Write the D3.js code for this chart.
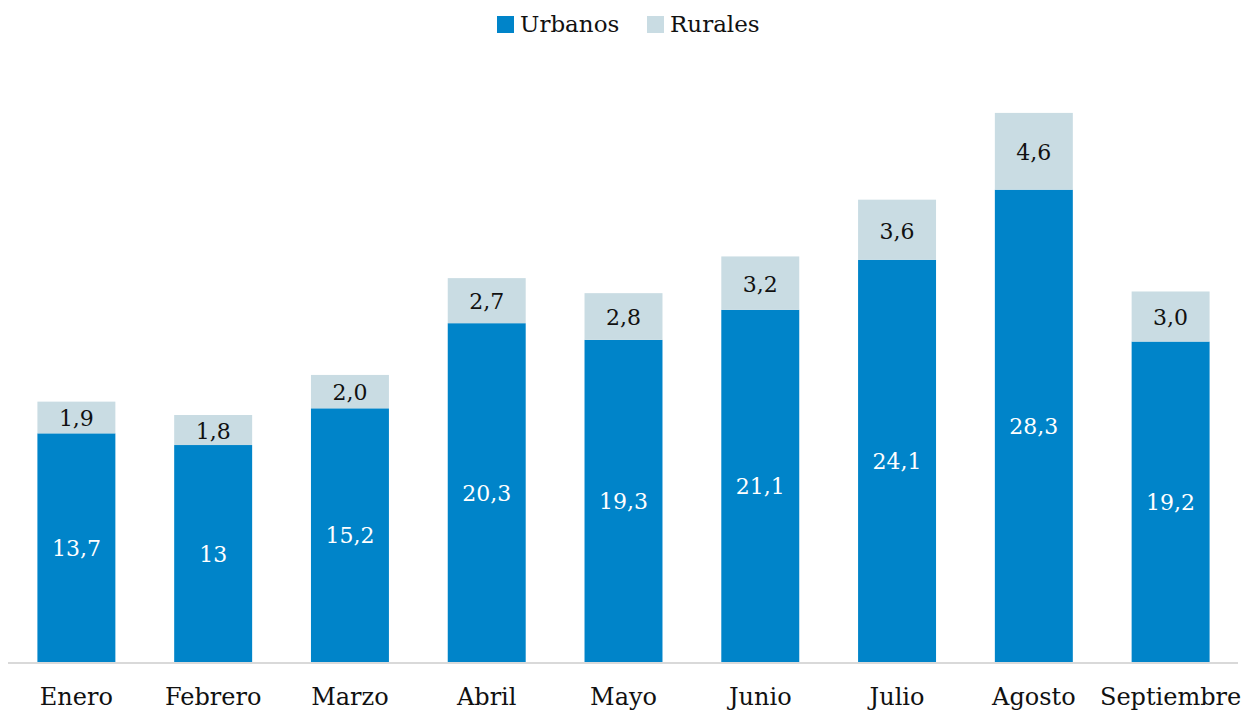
<!DOCTYPE html>
<html>
<head>
<meta charset="utf-8">
<script src="https://cdn.jsdelivr.net/npm/d3@7"></script>
<style>
  body { margin: 0; background: #fff; }
  text { font-family: "DejaVu Serif", serif; }
</style>
</head>
<body>
<div id="chart"></div>
<script>
var months = ["Enero", "Febrero", "Marzo", "Abril", "Mayo", "Junio", "Julio", "Agosto", "Septiembre"];
var urbanos = [13.7, 13, 15.2, 20.3, 19.3, 21.1, 24.1, 28.3, 19.2];
var rurales = [1.9, 1.8, 2.0, 2.7, 2.8, 3.2, 3.6, 4.6, 3.0];
var urbanLabels = ["13,7", "13", "15,2", "20,3", "19,3", "21,1", "24,1", "28,3", "19,2"];
var ruralLabels = ["1,9", "1,8", "2,0", "2,7", "2,8", "3,2", "3,6", "4,6", "3,0"];

var width = 1245, height = 713;

var svg = d3.select("#chart")
    .append("svg")
    .attr("width", width)
    .attr("height", height);

// scales
var x = d3.scaleBand()
    .domain(months)
    .range([8, 1239])
    .paddingInner(0.43)
    .paddingOuter(0.215);

var y = d3.scaleLinear()
    .domain([0, 35])
    .range([662, 662 - 35 * 16.69]);

var data = months.map(function(m, i) {
    return {month: m, u: urbanos[i], r: rurales[i], ul: urbanLabels[i], rl: ruralLabels[i]};
});

// urban bars
svg.append("g").selectAll("rect")
    .data(data)
    .enter()
    .append("rect")
    .attr("x", function(d) { return x(d.month); })
    .attr("y", function(d) { return y(d.u); })
    .attr("width", x.bandwidth())
    .attr("height", function(d) { return y(0) - y(d.u); })
    .style("fill", "#0084c9");

// rural bars
svg.append("g").selectAll("rect")
    .data(data)
    .enter()
    .append("rect")
    .attr("x", function(d) { return x(d.month); })
    .attr("y", function(d) { return y(d.u + d.r); })
    .attr("width", x.bandwidth())
    .attr("height", function(d) { return y(d.u) - y(d.u + d.r); })
    .style("fill", "#c9dce3");

// value labels
svg.append("g").selectAll("text")
    .data(data)
    .enter()
    .append("text")
    .attr("x", function(d) { return x(d.month) + x.bandwidth() / 2; })
    .attr("y", function(d) { return (y(d.u) + y(0)) / 2; })
    .attr("dy", "0.37em")
    .attr("text-anchor", "middle")
    .style("font-size", "22px")
    .style("fill", "#fff")
    .text(function(d) { return d.ul; });

svg.append("g").selectAll("text")
    .data(data)
    .enter()
    .append("text")
    .attr("x", function(d) { return x(d.month) + x.bandwidth() / 2; })
    .attr("y", function(d) { return (y(d.u) + y(d.u + d.r)) / 2; })
    .attr("dy", "0.4em")
    .attr("text-anchor", "middle")
    .style("font-size", "22px")
    .style("fill", "#111")
    .text(function(d) { return d.rl; });

// baseline
svg.append("line")
    .attr("x1", 8)
    .attr("x2", 1238)
    .attr("y1", y(0) + 1)
    .attr("y2", y(0) + 1)
    .style("stroke", "#d9d9d9")
    .style("stroke-width", 2);

// x axis labels
var xAxis = svg.append("g")
    .attr("transform", "translate(0," + y(0) + ")")
    .call(d3.axisBottom(x).tickSize(0).tickPadding(26));
xAxis.select(".domain").remove();
xAxis.selectAll("text")
    .style("font-family", "DejaVu Serif, serif")
    .style("font-size", "24px")
    .style("fill", "#111");

// legend
var legend = [
    {name: "Urbanos", color: "#0084c9", x: 497},
    {name: "Rurales", color: "#c9dce3", x: 647}
];
var lg = svg.append("g").selectAll("g")
    .data(legend)
    .enter()
    .append("g")
    .attr("transform", function(d) { return "translate(" + d.x + ",16)"; });
lg.append("rect")
    .attr("width", 17)
    .attr("height", 17)
    .style("fill", function(d) { return d.color; });
lg.append("text")
    .attr("x", 23)
    .attr("y", 16)
    .style("font-size", "23px")
    .style("fill", "#111")
    .text(function(d) { return d.name; });
</script>
</body>
</html>
